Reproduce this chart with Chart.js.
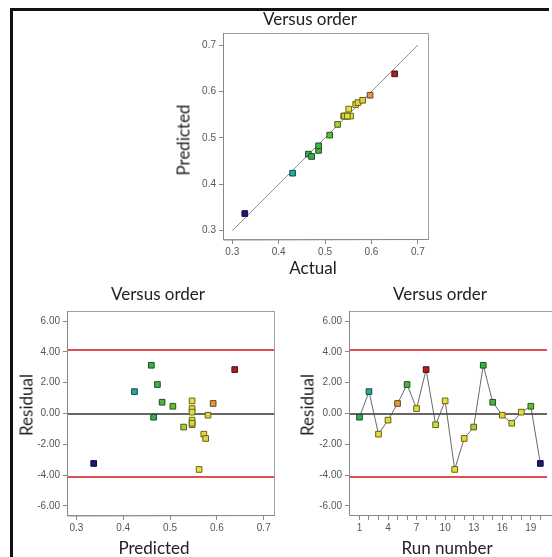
<!DOCTYPE html>
<html>
<head>
<meta charset="utf-8">
<script src="https://cdn.jsdelivr.net/npm/chart.js@4.4.1/dist/chart.umd.min.js"></script>
<style>
  html, body { margin: 0; padding: 0; background: #fff; overflow: hidden; }
  body { width: 552px; height: 557px; position: relative; font-family: Lato, "Open Sans", sans-serif; }
  .bar { position: absolute; background: #111; }
  canvas { position: absolute; }
  .lbl { position: absolute; transform: translate(-50%, -50%); font-size: 17px; color: #222; white-space: nowrap; line-height: 1; }
  .rot { transform: translate(-50%, -50%) rotate(-90deg); }
</style>
</head>
<body>
<div class="bar" style="left:10px;top:8px;width:539px;height:3px"></div>
<div class="bar" style="left:10px;top:8px;width:3px;height:549px"></div>

<canvas id="top" width="300" height="280" style="left:140px;top:0px"></canvas>
<canvas id="resPred" width="280" height="277" style="left:0px;top:280px"></canvas>
<canvas id="resRun" width="277" height="277" style="left:275px;top:280px"></canvas>

<div class="lbl" style="left:310px;top:18px">Versus order</div>
<div class="lbl rot" style="left:183px;top:140px">Predicted</div>
<div class="lbl" style="left:313px;top:267px">Actual</div>

<div class="lbl" style="left:158px;top:293px">Versus order</div>
<div class="lbl rot" style="left:26px;top:405px">Residual</div>
<div class="lbl" style="left:154px;top:547px">Predicted</div>

<div class="lbl" style="left:440px;top:293px">Versus order</div>
<div class="lbl rot" style="left:307px;top:405px">Residual</div>
<div class="lbl" style="left:447px;top:547px">Run number</div>

<script>
// --- Data ---
const runs = [1, 2, 3, 4, 5, 6, 7, 8, 9, 10, 11, 12, 13, 14, 15, 16, 17, 18, 19, 20];
const actual = [0.464, 0.430, 0.566, 0.545, 0.597, 0.486, 0.548, 0.650, 0.540, 0.555,
                0.551, 0.571, 0.527, 0.471, 0.486, 0.581, 0.542, 0.548, 0.510, 0.327];
const predicted = [0.465, 0.424, 0.572, 0.547, 0.592, 0.473, 0.547, 0.638, 0.547, 0.547,
                   0.562, 0.576, 0.529, 0.460, 0.483, 0.581, 0.547, 0.547, 0.506, 0.337];
const residual = [-0.24, 1.42, -1.34, -0.43, 0.65, 1.88, 0.32, 2.85, -0.73, 0.82,
                  -3.63, -1.62, -0.88, 3.13, 0.73, -0.11, -0.63, 0.09, 0.47, -3.24];
const limits = [4.15, -4.15];
const diagonal = [0.3, 0.7];
const unitTicks = [0.3, 0.4, 0.5, 0.6, 0.7];
const residualTicks = [-6, -4, -2, 0, 2, 4, 6];
const runLabelTicks = [1, 4, 7, 10, 13, 16, 19];

// --- colour ramp by response value (blue low -> red high) ---
const ramp = [
  [0.327, [26, 26, 122]],
  [0.43, [42, 168, 154]],
  [0.47, [58, 174, 74]],
  [0.51, [90, 190, 58]],
  [0.53, [182, 210, 58]],
  [0.55, [230, 224, 58]],
  [0.58, [232, 210, 58]],
  [0.60, [224, 144, 58]],
  [0.65, [168, 32, 32]]
];
function rampColor(v, k) {
  let c = ramp[ramp.length - 1][1];
  if (v <= ramp[0][0]) c = ramp[0][1];
  for (let i = 0; i < ramp.length - 1; i++) {
    const [a, ca] = ramp[i], [b, cb] = ramp[i + 1];
    if (v >= a && v <= b) {
      const t = (v - a) / (b - a);
      c = ca.map((x, j) => x + (cb[j] - x) * t);
      break;
    }
  }
  return `rgb(${c.map(x => Math.round(x * k)).join(',')})`;
}
const fills = actual.map(v => rampColor(v, 1));
const edges = actual.map(v => rampColor(v, 0.45));

// --- plugins ---
const boxPlugin = {
  id: 'box',
  afterDraw(chart) {
    const { ctx, chartArea: a } = chart;
    ctx.save();
    ctx.strokeStyle = '#a0a0a0';
    ctx.lineWidth = 1;
    ctx.strokeRect(Math.round(a.left) + 0.5, Math.round(a.top) + 0.5, Math.round(a.width) - 1, Math.round(a.height) - 1);
    ctx.strokeStyle = '#888';
    ctx.beginPath();
    ctx.moveTo(Math.round(a.left) + 0.5, a.top);
    ctx.lineTo(Math.round(a.left) + 0.5, a.bottom);
    ctx.lineTo(a.right, Math.round(a.bottom) - 0.5);
    ctx.stroke();
    ctx.restore();
  }
};

// run chart: box left open on the right, the plot runs off the picture
const openBox = {
  id: 'openBox',
  afterDraw(chart) {
    const { ctx, chartArea: a } = chart;
    ctx.save();
    ctx.strokeStyle = '#a0a0a0';
    ctx.lineWidth = 1;
    ctx.beginPath();
    ctx.moveTo(chart.width, Math.round(a.top) + 0.5);
    ctx.lineTo(Math.round(a.left) + 0.5, Math.round(a.top) + 0.5);
    ctx.stroke();
    ctx.strokeStyle = '#888';
    ctx.beginPath();
    ctx.moveTo(Math.round(a.left) + 0.5, a.top);
    ctx.lineTo(Math.round(a.left) + 0.5, Math.round(a.bottom) - 0.5);
    ctx.lineTo(chart.width, Math.round(a.bottom) - 0.5);
    ctx.stroke();
    ctx.restore();
  }
};

const refLines = {
  id: 'refLines',
  beforeDatasetsDraw(chart) {
    const { ctx, chartArea: a, scales } = chart;
    const hline = (v, color, w) => {
      const y = Math.round(scales.y.getPixelForValue(v));
      ctx.strokeStyle = color;
      ctx.lineWidth = w;
      ctx.beginPath();
      ctx.moveTo(a.left, y);
      ctx.lineTo(a.right, y);
      ctx.stroke();
    };
    ctx.save();
    limits.forEach(v => hline(v, '#d9534f', 2));
    hline(0, '#333', 1.5);
    ctx.restore();
  }
};

const tickFont = { family: '"Liberation Sans", Arial, sans-serif', size: 10 };

function xScale(min, max, height) {
  return {
    type: 'linear', min, max,
    border: { display: false },
    grid: { drawOnChartArea: false, tickLength: 4, color: '#888' },
    ticks: { stepSize: 0.1, includeBounds: false, padding: 2, color: '#555', font: tickFont, maxRotation: 0,
             callback: v => unitTicks.some(t => Math.abs(t - v) < 1e-6) ? v.toFixed(1) : '' },
    afterFit: s => { s.height = height; }
  };
}

function residualY(width) {
  return {
    type: 'linear', min: -6.65, max: 6.65,
    border: { display: false },
    grid: { drawOnChartArea: false, tickLength: 4, color: '#888' },
    ticks: { stepSize: 2, includeBounds: false, padding: 3, color: '#555', font: tickFont,
             callback: v => residualTicks.includes(Math.round(v)) ? v.toFixed(2) : '' },
    afterFit: s => { s.width = width; }
  };
}

const common = {
  responsive: false,
  animation: false,
  plugins: { legend: { display: false }, tooltip: { enabled: false } }
};

// --- Predicted vs Actual ---
new Chart(document.getElementById('top'), {
  type: 'scatter',
  data: {
    datasets: [
      {
        data: actual.map((a, i) => ({ x: a, y: predicted[i] })),
        pointStyle: 'rect', pointRadius: 4,
        backgroundColor: fills, borderColor: edges, borderWidth: 1
      },
      {
        data: diagonal.map(v => ({ x: v, y: v })),
        showLine: true, pointRadius: 0, borderColor: '#8c8c8c', borderWidth: 1
      }
    ]
  },
  options: Object.assign({}, common, {
    layout: { padding: { top: 33, right: 11, left: 0, bottom: 0 } },
    scales: {
      x: xScale(0.28, 0.724, 40),
      y: {
        type: 'linear', min: 0.28, max: 0.726,
        border: { display: false },
        grid: { drawOnChartArea: false, tickLength: 4, color: '#888' },
        ticks: { stepSize: 0.1, includeBounds: false, padding: 3, color: '#555', font: tickFont,
                 callback: v => unitTicks.some(t => Math.abs(t - v) < 1e-6) ? v.toFixed(1) : '' },
        afterFit: s => { s.width = 83; }
      }
    }
  }),
  plugins: [boxPlugin]
});

// --- Residual vs Predicted ---
new Chart(document.getElementById('resPred'), {
  type: 'scatter',
  data: {
    datasets: [{
      data: predicted.map((p, i) => ({ x: p, y: residual[i] })),
      pointStyle: 'rect', pointRadius: 4,
      backgroundColor: fills, borderColor: edges, borderWidth: 1
    }]
  },
  options: Object.assign({}, common, {
    layout: { padding: { top: 31, right: 5, left: 0, bottom: 0 } },
    scales: {
      x: xScale(0.28, 0.724, 41),
      y: residualY(67)
    }
  }),
  plugins: [refLines, boxPlugin]
});

// --- Residual vs Run number ---
new Chart(document.getElementById('resRun'), {
  type: 'scatter',
  data: {
    datasets: [{
      data: runs.map((r, i) => ({ x: r, y: residual[i] })),
      showLine: true, borderColor: '#444', borderWidth: 0.8, tension: 0,
      pointStyle: 'rect', pointRadius: 4,
      pointBackgroundColor: fills, pointBorderColor: edges, pointBorderWidth: 1
    }]
  },
  options: Object.assign({}, common, {
    layout: { padding: { top: 31, right: 0, left: 0, bottom: 0 } },
    scales: {
      x: {
        type: 'linear', min: -0.1, max: 20.7,
        border: { display: false },
        grid: { drawOnChartArea: false, tickLength: 4, color: '#888' },
        ticks: { stepSize: 1, includeBounds: false, autoSkip: false, maxRotation: 0, padding: 2,
                 color: '#555', font: tickFont,
                 callback: v => runLabelTicks.includes(v) ? String(v) : '' },
        afterBuildTicks: s => { s.ticks = s.ticks.filter(t => t.value >= 1 && t.value <= 20); },
        afterFit: s => { s.height = 41; }
      },
      y: residualY(74)
    }
  }),
  plugins: [refLines, openBox]
});
</script>
</body>
</html>
